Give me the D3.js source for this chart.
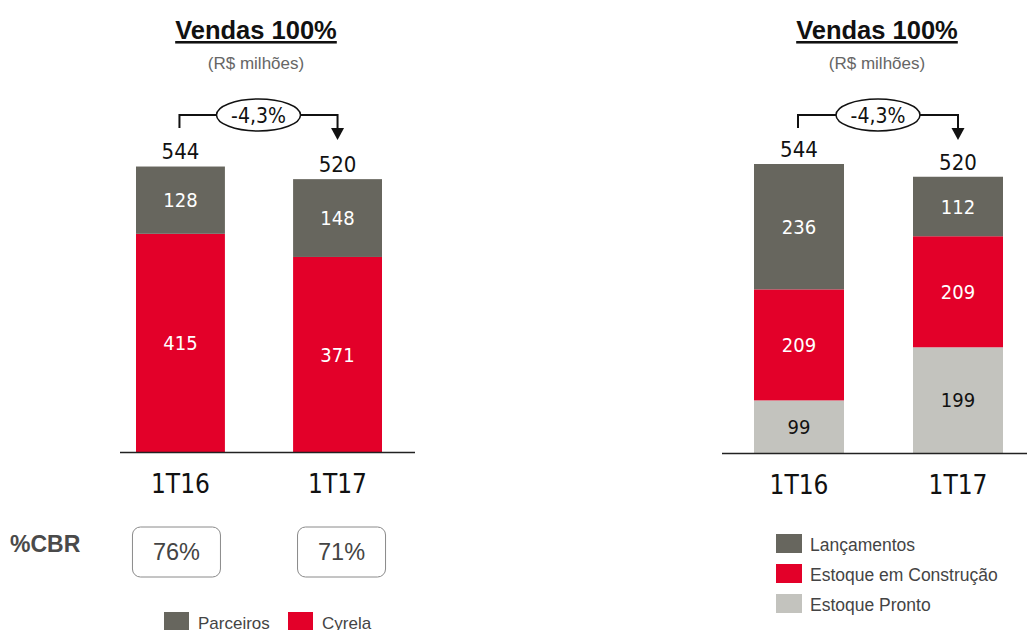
<!DOCTYPE html>
<html>
<head>
<meta charset="utf-8">
<script src="https://cdn.jsdelivr.net/npm/d3@7"></script>
<style>
  body { margin: 0; background: #fff; }
  svg { display: block; }
</style>
</head>
<body>
<div id="chart"></div>
<script>
// data
var periods = ["1T16", "1T17"];
var totals = [544, 520];
var variation = "-4,3%";

// left chart: Cyrela / Parceiros
var cyrela = [415, 371];
var parceiros = [128, 148];
var pctCBR = ["76%", "71%"];

// right chart: by stage
var estoquePronto = [99, 199];
var estoqueConstrucao = [209, 209];
var lancamentos = [236, 112];

var colDark = "#67665e", colRed = "#e30029", colLight = "#c3c3be";
var numFont = "'DejaVu Sans Condensed', 'DejaVu Sans', sans-serif";
var txtFont = "'Liberation Sans', Arial, sans-serif";

var svg = d3.select("#chart").append("svg")
    .attr("width", 1027)
    .attr("height", 630);

function drawPanel(opt) {
  var g = svg.append("g");

  var x = d3.scaleBand()
      .domain(periods)
      .range(opt.xRange)
      .paddingInner(0.434)
      .paddingOuter(0);

  var y = d3.scaleLinear()
      .domain([0, 544])
      .range([opt.base, opt.top544]);

  // title
  g.append("text")
      .attr("x", opt.cx).attr("y", 39)
      .attr("text-anchor", "middle")
      .style("font-family", txtFont)
      .style("font-weight", "bold")
      .style("font-size", "25.5px")
      .style("text-decoration", "underline")
      .attr("fill", "#111")
      .text("Vendas 100%");

  g.append("text")
      .attr("x", opt.cx).attr("y", 69)
      .attr("text-anchor", "middle")
      .style("font-family", txtFont)
      .style("font-size", "17px")
      .attr("fill", "#666")
      .text("(R$ milhões)");

  // stacked bars
  var stack = d3.stack().keys(opt.keys.map(function(k) { return k.name; }));
  var rows = periods.map(function(p, i) {
    var r = { period: p };
    opt.keys.forEach(function(k) { r[k.name] = k.values[i]; });
    return r;
  });
  var series = stack(rows);

  series.forEach(function(s, si) {
    var key = opt.keys[si];
    g.selectAll(null)
      .data(s)
      .join("rect")
        .attr("x", function(d) { return x(d.data.period); })
        .attr("width", x.bandwidth())
        .attr("y", function(d) { return y(d[1]); })
        .attr("height", function(d) { return y(d[0]) - y(d[1]); })
        .attr("fill", key.color);

    g.selectAll(null)
      .data(s)
      .join("text")
        .attr("x", function(d) { return x(d.data.period) + x.bandwidth() / 2; })
        .attr("y", function(d) { return (y(d[0]) + y(d[1])) / 2; })
        .attr("dy", "0.36em")
        .attr("text-anchor", "middle")
        .style("font-family", numFont)
        .style("font-size", "20px")
        .attr("fill", key.label)
        .text(function(d) { return d.data[key.name]; });
  });

  // totals
  g.selectAll(null)
    .data(totals)
    .join("text")
      .attr("x", function(d, i) { return x(periods[i]) + x.bandwidth() / 2; })
      .attr("y", function(d) { return y(d) - 7; })
      .attr("text-anchor", "middle")
      .style("font-family", numFont)
      .style("font-size", "22px")
      .attr("fill", "#111")
      .text(function(d) { return d; });

  // baseline
  g.append("line")
      .attr("x1", opt.axis[0]).attr("x2", opt.axis[1])
      .attr("y1", opt.base + 0.5).attr("y2", opt.base + 0.5)
      .attr("stroke", "#222").attr("stroke-width", 1.5);

  // category labels
  g.selectAll(null)
    .data(periods)
    .join("text")
      .attr("x", function(d) { return x(d) + x.bandwidth() / 2; })
      .attr("y", opt.base + 41)
      .attr("text-anchor", "middle")
      .style("font-family", numFont)
      .style("font-size", "26px")
      .attr("fill", "#111")
      .text(function(d) { return d; });

  // variation bracket
  var xa = x(periods[0]) + x.bandwidth() / 2 - 1,
      xb = x(periods[1]) + x.bandwidth() / 2,
      yb = 115, xm = (xa + xb) / 2;
  g.append("path")
      .attr("d", "M" + xa + "," + 128 + "V" + yb + "H" + xb + "V" + 129)
      .attr("fill", "none").attr("stroke", "#111").attr("stroke-width", 2);
  g.append("path")
      .attr("d", "M" + (xb - 6.5) + ",128L" + (xb + 6.5) + ",128L" + xb + ",140Z")
      .attr("fill", "#111");
  g.append("ellipse")
      .attr("cx", xm).attr("cy", yb)
      .attr("rx", 42).attr("ry", 16)
      .attr("fill", "#fff").attr("stroke", "#111").attr("stroke-width", 1.5);
  g.append("text")
      .attr("x", xm).attr("y", yb)
      .attr("dy", "0.36em")
      .attr("text-anchor", "middle")
      .style("font-family", numFont)
      .style("font-size", "21px")
      .attr("fill", "#111")
      .text(variation);

  return x;
}

var xLeft = drawPanel({
  cx: 256, xRange: [136, 382], base: 452, top544: 166, axis: [120, 415],
  keys: [
    { name: "Cyrela", values: cyrela, color: colRed, label: "#fff" },
    { name: "Parceiros", values: parceiros, color: colDark, label: "#fff" }
  ]
});

drawPanel({
  cx: 877, xRange: [754, 1003], base: 453, top544: 164, axis: [722, 1027],
  keys: [
    { name: "Estoque Pronto", values: estoquePronto, color: colLight, label: "#111" },
    { name: "Estoque em Construção", values: estoqueConstrucao, color: colRed, label: "#fff" },
    { name: "Lançamentos", values: lancamentos, color: colDark, label: "#fff" }
  ]
});

// %CBR boxes
svg.append("text")
    .attr("x", 10).attr("y", 552)
    .style("font-family", txtFont)
    .style("font-weight", "bold")
    .style("font-size", "23px")
    .attr("fill", "#4a4a4a")
    .text("%CBR");

// boxes sit slightly outward of the bar centres
var boxShift = [-4, 4];
var cbr = svg.append("g").selectAll("g")
  .data(pctCBR)
  .join("g")
    .attr("transform", function(d, i) {
      return "translate(" + (xLeft(periods[i]) + xLeft.bandwidth() / 2 + boxShift[i]) + ",552)";
    });
cbr.append("rect")
    .attr("x", -44).attr("y", -25)
    .attr("width", 88).attr("height", 50)
    .attr("rx", 8)
    .attr("fill", "#fff").attr("stroke", "#8a8a8a").attr("stroke-width", 1);
cbr.append("text")
    .attr("dy", "0.36em")
    .attr("text-anchor", "middle")
    .style("font-family", txtFont)
    .style("font-size", "23.5px")
    .attr("fill", "#444")
    .text(function(d) { return d; });

// legend left
var legLeft = [
  { label: "Parceiros", color: colDark, x: 164 },
  { label: "Cyrela", color: colRed, x: 288 }
];
var ll = svg.append("g").selectAll("g")
  .data(legLeft)
  .join("g")
    .attr("transform", function(d) { return "translate(" + d.x + ",612)"; });
ll.append("rect").attr("width", 25).attr("height", 20).attr("fill", function(d) { return d.color; });
ll.append("text")
    .attr("x", 34).attr("y", 17)
    .style("font-family", txtFont)
    .style("font-size", "17px")
    .attr("fill", "#444")
    .text(function(d) { return d.label; });

// legend right
var legRight = [
  { label: "Lançamentos", color: colDark },
  { label: "Estoque em Construção", color: colRed },
  { label: "Estoque Pronto", color: colLight }
];
var lr = svg.append("g").selectAll("g")
  .data(legRight)
  .join("g")
    .attr("transform", function(d, i) { return "translate(776," + (534 + i * 30) + ")"; });
lr.append("rect").attr("width", 26).attr("height", 19).attr("fill", function(d) { return d.color; });
lr.append("text")
    .attr("x", 34).attr("y", 10.5)
    .attr("dy", "0.36em")
    .style("font-family", txtFont)
    .style("font-size", "17.5px")
    .attr("fill", "#444")
    .text(function(d) { return d.label; });
</script>
</body>
</html>
